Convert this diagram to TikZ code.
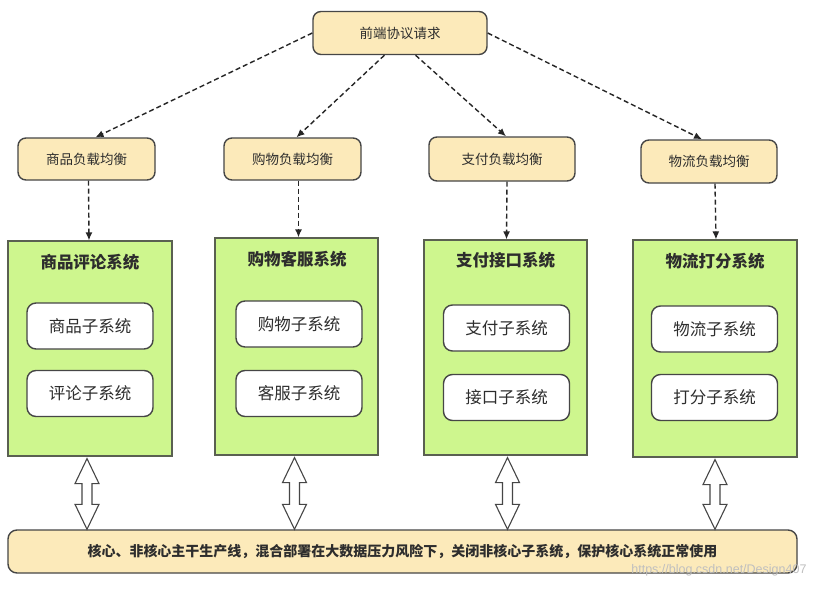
\documentclass[tikz,border=0pt]{standalone}
\usepackage{fontspec}
\setmainfont{Noto Sans CJK SC}
\newfontfamily\wmfont{Liberation Sans}
\usetikzlibrary{arrows.meta,calc}
\definecolor{tan}{RGB}{252,234,186}
\definecolor{lime}{RGB}{206,246,142}
\definecolor{edge}{RGB}{70,70,70}
\definecolor{txt}{RGB}{45,45,45}
\tikzset{
  lbbox/.style={draw=edge, line width=1.4pt, fill=tan, rounded corners=8pt, text=txt, font=\fontsize{13.5}{15}\selectfont, inner sep=0pt},
  grbox/.style={draw=edge!85!lime, line width=1.2pt, fill=lime, inner sep=0pt},
  grtitle/.style={text=txt, font=\fontsize{16.5}{18}\selectfont\bfseries},
  subbox/.style={draw=edge, line width=1.4pt, fill=white, rounded corners=9pt, minimum width=126pt, minimum height=46pt, text=txt, font=\fontsize{16.5}{18}\selectfont, inner sep=0pt},
  dasharrow/.style={draw=black!85, line width=1.4pt, dash pattern=on 5pt off 3pt, -{Latex[length=8pt,width=7pt]}},
  hollow/.style={draw=edge, line width=1.1pt, fill=white, line join=miter},
}
\newcommand\hollowarrow[2]{%
  \path[hollow] (#1) -- ++(12,25) -- ++(-7,0) -- ($(#2)+(5,-25)$) -- ++(7,0) -- (#2)
    -- ++(-12,-25) -- ++(7,0) -- ($(#1)+(-5,25)$) -- ++(-7,0) -- cycle;}
\begin{document}
\begin{tikzpicture}[x=1pt,y=-1pt]
\useasboundingbox[fill=white] (0,0) rectangle (815,592);
% top node
\node[lbbox, minimum width=174pt, minimum height=43pt] (top) at (400,33) {前端协议请求};
% load balancers
\node[lbbox, minimum width=137pt, minimum height=42pt] (lb1) at (86.5,159) {商品负载均衡};
\node[lbbox, minimum width=137pt, minimum height=42pt] (lb2) at (292.5,159) {购物负载均衡};
\node[lbbox, minimum width=146pt, minimum height=44pt] (lb3) at (502,159) {支付负载均衡};
\node[lbbox, minimum width=136pt, minimum height=43pt] (lb4) at (709,161.5) {物流负载均衡};
% green systems
\node[grbox, minimum width=164pt, minimum height=215pt] (g1) at (90,348.5) {};
\node[grbox, minimum width=163pt, minimum height=217pt] (g2) at (296.5,346.5) {};
\node[grbox, minimum width=163pt, minimum height=215pt] (g3) at (505.5,347.5) {};
\node[grbox, minimum width=164pt, minimum height=217pt] (g4) at (715,348.5) {};
\node[grtitle] (t1) at (90,262) {商品评论系统};
\node[grtitle] (t2) at (297,259) {购物客服系统};
\node[grtitle] (t3) at (505.5,260) {支付接口系统};
\node[grtitle] (t4) at (715,261) {物流打分系统};
\node[subbox] (s1a) at (90,326) {商品子系统};
\node[subbox] (s1b) at (90,393.5) {评论子系统};
\node[subbox] (s2a) at (299,324) {购物子系统};
\node[subbox] (s2b) at (299,393.5) {客服子系统};
\node[subbox] (s3a) at (506.5,328) {支付子系统};
\node[subbox] (s3b) at (506.5,397.5) {接口子系统};
\node[subbox] (s4a) at (714.5,329) {物流子系统};
\node[subbox] (s4b) at (714.5,397.5) {打分子系统};
% bottom bar
\node[lbbox, rounded corners=9pt, minimum width=789pt, minimum height=43pt, font=\fontsize{14}{16}\selectfont\bfseries] (bar) at (402.5,551.5) {核心、非核心主干生产线，混合部署在大数据压力风险下，关闭非核心子系统，保护核心系统正常使用};
% dashed arrows
\draw[dasharrow] (top.west) -- ([xshift=9pt]lb1.north);
\draw[dasharrow] (top.235) -- ([xshift=4pt]lb2.north);
\draw[dasharrow] (top.305) -- ([xshift=4pt]lb3.north);
\draw[dasharrow] (top.east) -- ([xshift=-7pt]lb4.north);
\draw[dasharrow] ([xshift=2pt]lb1.south) -- ([xshift=-1pt]g1.north);
\draw[dasharrow] ([xshift=6pt]lb2.south) -- ([xshift=2pt]g2.north);
\draw[dasharrow] ([xshift=5pt]lb3.south) -- ([xshift=1pt]g3.north);
\draw[dasharrow] ([xshift=6pt]lb4.south) -- ([xshift=1pt]g4.north);
% hollow double arrows
\coordinate (a1t) at ([xshift=-3pt,yshift=-2pt]g1.south);
\coordinate (a2t) at ([xshift=-2pt,yshift=-2pt]g2.south);
\coordinate (a3t) at ([xshift=2pt,yshift=-2pt]g3.south);
\coordinate (a4t) at ([xshift=0pt,yshift=-2pt]g4.south);
\hollowarrow{a1t}{a1t |- bar.north}
\hollowarrow{a2t}{a2t |- bar.north}
\hollowarrow{a3t}{a3t |- bar.north}
\hollowarrow{a4t}{a4t |- bar.north}
% watermark
\node[text=black!25, font=\wmfont\fontsize{12.5}{14}\selectfont, anchor=east] (wm) at (810,570) {https://blog.csdn.net/Design407};
\end{tikzpicture}
\end{document}
